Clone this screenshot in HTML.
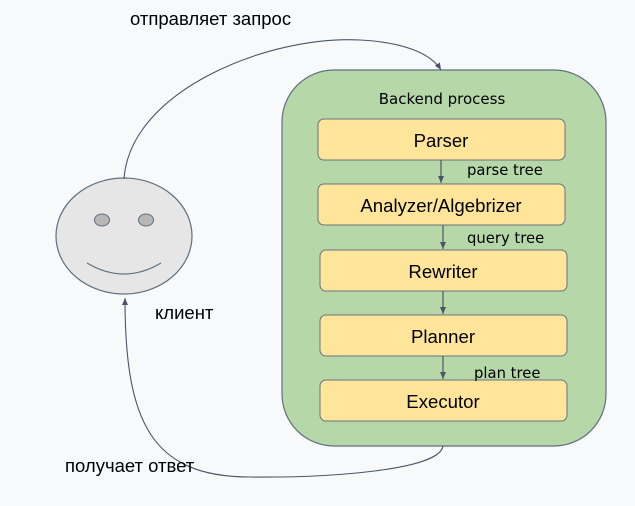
<!DOCTYPE html>
<html><head><meta charset="utf-8"><style>
html,body{margin:0;padding:0;background:#f8f9fb;}
svg{display:block}
text{font-family:"Liberation Sans",sans-serif;fill:#000}
</style></head><body>
<svg width="635" height="506" viewBox="0 0 635 506" xmlns="http://www.w3.org/2000/svg">
<defs><marker id="a" markerWidth="8" markerHeight="8" refX="7" refY="4" orient="auto" markerUnits="userSpaceOnUse"><path d="M0,1 L7,4 L0,7 z" fill="#4a5668"/></marker></defs>
<rect x="282" y="70" width="324" height="376" rx="52" fill="#b6d7a8" stroke="#5f6f80" stroke-width="1.2"/>
<text x="442" y="104" font-size="15" text-anchor="middle" style="font-family:'DejaVu Sans',sans-serif">Backend process</text>
<g fill="#ffe599" stroke="#6a7280" stroke-width="1">
<rect x="318" y="119" width="247" height="41" rx="6"/>
<rect x="318" y="184" width="247" height="41" rx="6"/>
<rect x="320" y="250" width="247" height="41" rx="6"/>
<rect x="320" y="315" width="247" height="41" rx="6"/>
<rect x="320" y="380" width="247" height="41" rx="6"/>
</g>
<g font-size="18.6" text-anchor="middle">
<text x="441" y="147">Parser</text>
<text x="441" y="212">Analyzer/Algebrizer</text>
<text x="443" y="278">Rewriter</text>
<text x="443" y="343">Planner</text>
<text x="443" y="408">Executor</text>
</g>
<g stroke="#4a5668" stroke-width="1.2" marker-end="url(#a)">
<line x1="441" y1="160" x2="441" y2="183"/>
<line x1="443" y1="225" x2="443" y2="249"/>
<line x1="443" y1="291" x2="443" y2="314"/>
<line x1="443" y1="356" x2="443" y2="379"/>
</g>
<g font-size="14.8">
<text x="467" y="175" style="font-family:'DejaVu Sans',sans-serif">parse tree</text>
<text x="467" y="243" style="font-family:'DejaVu Sans',sans-serif">query tree</text>
<text x="474" y="378" style="font-family:'DejaVu Sans',sans-serif">plan tree</text>
</g>
<ellipse cx="124" cy="236" rx="68" ry="58" fill="#e6e6e6" stroke="#5f6f80" stroke-width="1.2"/>
<ellipse cx="102" cy="220" rx="7.5" ry="6" fill="#b7b7b7" stroke="#5f6f80"/>
<ellipse cx="146" cy="220" rx="7.5" ry="6" fill="#b7b7b7" stroke="#5f6f80"/>
<path d="M87,263 Q124,285 161,263" fill="none" stroke="#5f6f80" stroke-width="1.2"/>
<path d="M124,179 C130,90 270,35 360,40 C400,42 430,52 441,70" fill="none" stroke="#4a5668" stroke-width="1.1" marker-end="url(#a)"/>
<path d="M443,446 C440,470 330,478 250,477 C150,477 125,420 125,298" fill="none" stroke="#4a5668" stroke-width="1.1" marker-end="url(#a)"/>
<g font-size="18.5">
<text x="130" y="25">отправляет запрос</text>
<text x="155" y="319">клиент</text>
<text x="65" y="472">получает ответ</text>
</g>
</svg>
</body></html>
